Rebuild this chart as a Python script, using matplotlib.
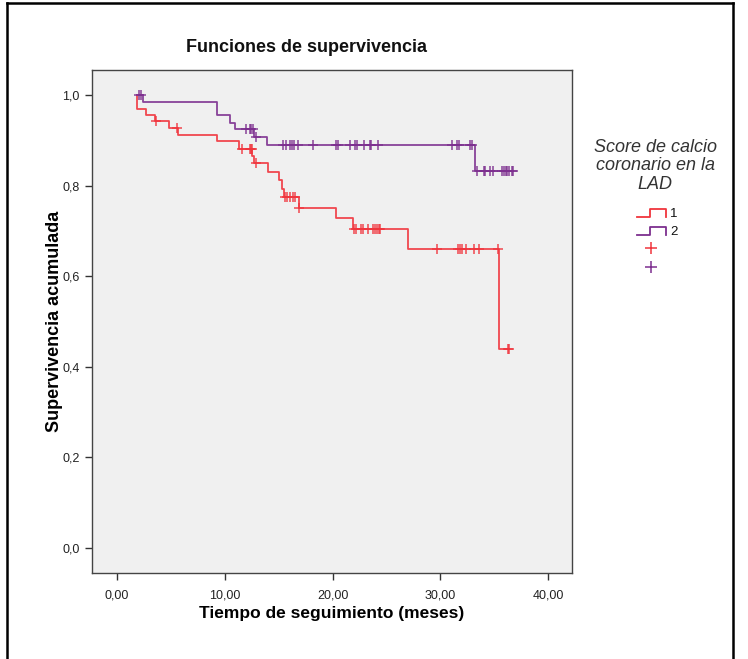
import numpy as np
import matplotlib
matplotlib.use("Agg")
import matplotlib.pyplot as plt
from matplotlib.lines import Line2D

plt.rcParams['font.family'] = ['Liberation Sans', 'DejaVu Sans']

# Kaplan-Meier steps: event times (months) and survival after each event
g1_start = 1.9
g1_times = [1.9, 2.7, 3.5, 4.85, 5.7, 9.3, 11.35, 12.55, 12.7, 14.0, 15.05,
            15.3, 15.5, 16.85, 20.3, 21.9, 27.0, 35.4]
g1_surv = [0.969, 0.956, 0.943, 0.928, 0.912, 0.898, 0.881, 0.866, 0.849,
           0.831, 0.812, 0.793, 0.775, 0.751, 0.728, 0.704, 0.660, 0.439]
g1_censored = [3.6, 5.6, 11.6, 12.3, 12.4, 12.5, 12.9, 15.6, 15.75, 16.0,
               16.3, 16.5, 16.9, 21.95, 22.2, 22.6, 22.8, 23.3, 23.7, 23.9,
               24.1, 24.3, 24.4, 29.7, 31.6, 31.8, 32.0, 32.4, 33.1, 33.6,
               35.3, 36.3, 36.4]

g2_start = 2.0
g2_times = [2.4, 9.25, 10.5, 10.9, 12.7, 13.95, 33.2]
g2_surv = [0.984, 0.956, 0.939, 0.925, 0.908, 0.890, 0.833]
g2_censored = [2.0, 2.2, 12.0, 12.3, 12.4, 12.6, 12.85, 15.4, 15.7, 16.0,
               16.2, 16.4, 16.8, 18.2, 20.3, 20.5, 21.6, 22.1, 22.3, 22.9,
               23.5, 23.6, 24.2, 31.1, 31.5, 31.7, 32.7, 32.9, 33.4, 34.0,
               34.1, 34.6, 34.9, 35.7, 35.9, 36.1, 36.2, 36.4, 36.6, 36.7]

group_labels = ["1", "2"]
x_ticks = [0, 10, 20, 30, 40]
x_ticklabels = ["0,00", "10,00", "20,00", "30,00", "40,00"]
y_ticks = [0.0, 0.2, 0.4, 0.6, 0.8, 1.0]
y_ticklabels = ["0,0", "0,2", "0,4", "0,6", "0,8", "1,0"]

RED = '#F0353D'
PURPLE = '#7D2F8F'

W, H = 748, 659
fig = plt.figure(figsize=(W / 100, H / 100), dpi=100)
fig.patch.set_facecolor('white')


def fx(px):
    return px / W


def fy(py):
    return 1 - py / H


ax = fig.add_axes([fx(92), fy(573), fx(572) - fx(92), fy(70) - fy(573)])
ax.set_facecolor('#F0F0F0')


def step_curve(start, times, surv, censored):
    end = max(censored[-1], times[-1])
    xs = [start] + list(times) + [end]
    ys = [1.0] + list(surv) + [surv[-1]]
    t = np.asarray(times)
    s = np.concatenate([[1.0], surv])
    cy = [s[np.searchsorted(t, c, side='right')] for c in censored]
    return xs, ys, cy


for (start, times, surv, cens, col) in [
        (g1_start, g1_times, g1_surv, g1_censored, RED),
        (g2_start, g2_times, g2_surv, g2_censored, PURPLE)]:
    xs, ys, cy = step_curve(start, times, surv, cens)
    ax.step(xs, ys, where='post', color=col, lw=1.3, alpha=0.9)
    ax.plot(cens, cy, ls='none', marker='+', ms=6.5, mew=1.1, color=col,
            alpha=0.9)

ax.set_xlim(-2.32, 42.2)
ax.set_ylim(-0.055, 1.055)
ax.set_xticks(x_ticks)
ax.set_xticklabels(x_ticklabels)
ax.set_yticks(y_ticks)
ax.set_yticklabels(y_ticklabels)
ax.tick_params(direction='out', length=5, width=1, color='#333333',
               labelsize=9, labelcolor='#222222', pad=4)
ax.tick_params(axis='x', pad=7)
for sp in ax.spines.values():
    sp.set_color('#444444')
    sp.set_linewidth(1.0)

ax.set_xlabel("Tiempo de seguimiento (meses)", fontsize=12.5,
              fontweight='bold', labelpad=3)
ax.yaxis.set_label_coords(fx(55) / (fx(572) - fx(92)) - fx(92) / (fx(572) - fx(92)),
                          0.5)
ax.set_ylabel("Supervivencia acumulada", fontsize=13, fontweight='bold',
              va='center')
fig.text(fx(307), fy(47), "Funciones de supervivencia", fontsize=13,
         fontweight='bold', ha='center', va='center', color='#111111')

# legend block
fig.text(fx(655), fy(166), "Score de calcio\ncoronario en la\nLAD",
         fontsize=13, style='italic', ha='center', va='center',
         color='#333333', linespacing=1.08)
for col, lab, ybot in [(RED, group_labels[0], 217), (PURPLE, group_labels[1], 235)]:
    ytop = ybot - 8
    fig.add_artist(Line2D([fx(637), fx(650), fx(650), fx(666), fx(666)],
                          [fy(ybot), fy(ybot), fy(ytop), fy(ytop), fy(ybot)],
                          color=col, lw=1.3, transform=fig.transFigure))
    fig.text(fx(670), fy(ybot - 3), lab, fontsize=9.5, ha='left', va='center',
             color='#111111')
for col, py in [(RED, 248), (PURPLE, 267)]:
    fig.add_artist(Line2D([fx(651)], [fy(py)], ls='none', marker='+', ms=9,
                          mew=1.1, color=col, transform=fig.transFigure))

# outer frame
for xsf, ysf in [([fx(7), fx(7)], [fy(3), 0]),
                 ([fx(7), fx(733)], [fy(3), fy(3)]),
                 ([fx(733), fx(733)], [fy(3), 0])]:
    fig.add_artist(Line2D(xsf, ysf, color='black', lw=1.8,
                          transform=fig.transFigure))

fig.savefig("out.png", dpi=100, facecolor='white')
